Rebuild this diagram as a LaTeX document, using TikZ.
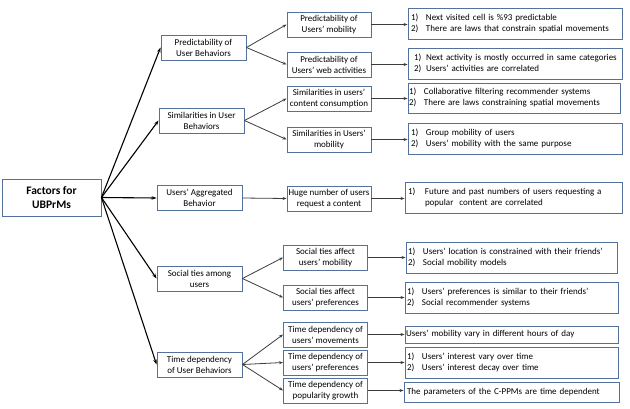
\documentclass[tikz,border=0pt]{standalone}
\usepackage{fontspec}
\setmainfont{Carlito}
\usetikzlibrary{arrows.meta}
\definecolor{bxc}{RGB}{84,112,156}
\definecolor{arc}{RGB}{60,60,60}
\begin{document}
\begin{tikzpicture}[x=1pt,y=-1pt,
  bx/.style={draw=bxc, line width=0.9pt, fill=white, inner sep=0pt, align=center,
    font=\fontsize{9}{11}\selectfont},
  lone/.style={bx, minimum width=85pt, minimum height=25pt},
  ltwo/.style={bx, minimum width=84pt, minimum height=25pt},
  lthree/.style={bx, align=left, inner xsep=3pt, text width=#1},
  lthree/.default=208pt,
  rootbox/.style={bx, minimum width=99pt, minimum height=37pt,
    font=\fontsize{11.5}{13.5}\selectfont\bfseries},
  rootarr/.style={-{Stealth[length=5pt,width=3.5pt]}, line width=1.1pt, black},
  arr/.style={-{Stealth[length=4pt,width=3pt]}, line width=0.8pt, arc},
]
\useasboundingbox (0,0) rectangle (630,408);

% root
\node[rootbox] (root) at (51.5,197.5) {Factors for\\UBPrMs};

% level 1
\node[lone] (a1) at (203.5,47.5) {Predictability of\\User Behaviors};
\node[lone] (a2) at (201.5,120.5) {Similarities in User\\Behaviors};
\node[lone] (a3) at (199.5,198) {Users’ Aggregated\\Behavior};
\node[lone] (a4) at (199.5,278.5) {Social ties among\\users};
\node[lone] (a5) at (199.5,364.5) {Time dependency\\of User Behaviors};

% level 2
\node[ltwo] (b1) at (329,24.5) {Predictability of\\Users’ mobility};
\node[ltwo] (b2) at (329,64.5) {Predictability of\\Users’ web activities};
\node[ltwo] (b3) at (329,98.5) {Similarities in users’\\content consumption};
\node[ltwo] (b4) at (329,139.5) {Similarities in Users’\\mobility};
\node[ltwo] (b5) at (329,198.5) {Huge number of users\\request a content};
\node[ltwo] (b6) at (325.5,257.5) {Social ties affect\\users’ mobility};
\node[ltwo] (b7) at (325.5,297.5) {Social ties affect\\users’ preferences};
\node[ltwo] (b8) at (325.5,334.5) {Time dependency of\\users’ movements};
\node[ltwo] (b9) at (325.5,362.5) {Time dependency of\\users’ preferences};
\node[ltwo] (b10) at (325.5,390.5) {Time dependency of\\popularity growth};

% level 3
\node[lthree, minimum height=31pt] (c1) at (515,23.5)
  {\begin{tabular}{@{}p{15pt}@{}l@{}}1) & Next visited cell is \%93 predictable\\2) & There are laws that constrain spatial movements\end{tabular}};
\node[lthree, minimum height=31pt] (c2) at (515,63.5)
  {\hspace*{3pt}\begin{tabular}{@{}p{12pt}@{}l@{}}1) & Next activity is mostly occurred in same categories\\2) & Users’ activities are correlated\end{tabular}};
\node[lthree=210pt, minimum height=30pt, inner xsep=1pt] (c3) at (514,98)
  {\begin{tabular}{@{}p{15pt}@{}l@{}}1) & Collaborative filtering recommender systems\\2) & There are laws constraining spatial movements\end{tabular}};
\node[lthree, minimum height=31pt] (c4) at (515,138.5)
  {\begin{tabular}{@{}p{15pt}@{}l@{}}1) & Group mobility of users\\2) & Users’ mobility with the same purpose\end{tabular}};
\node[lthree=211pt, minimum height=31pt] (c5) at (513.5,197.5)
  {\begin{tabular}{@{}p{17pt}@{}l@{}}1) & Future and past numbers of users requesting a\\ & popular\ \ content are correlated\end{tabular}};
\node[lthree=207pt, minimum height=31pt, inner xsep=2pt] (c6) at (511.5,257.5)
  {\begin{tabular}{@{}p{15pt}@{}l@{}}1) & Users’ location is constrained with their friends’\\2) & Social mobility models\end{tabular}};
\node[lthree=209pt, minimum height=31pt, inner xsep=2pt] (c7) at (511.5,297.5)
  {\begin{tabular}{@{}p{15pt}@{}l@{}}1) & Users’ preferences is similar to their friends’\\2) & Social recommender systems\end{tabular}};
\node[lthree=211pt, minimum height=17pt, inner xsep=1pt] (c8) at (511.5,334.5)
  {Users’ mobility vary in different hours of day};
\node[lthree=209pt, minimum height=31pt, inner xsep=2pt] (c9) at (511.5,362.5)
  {\begin{tabular}{@{}p{15pt}@{}l@{}}1) & Users’ interest vary over time\\2) & Users’ interest decay over time\end{tabular}};
\node[lthree=209pt, minimum height=20pt] (c10) at (511.5,392)
  {The parameters of the C-PPMs are time dependent};

% root arrows
\foreach \t in {a1,a2,a3,a4,a5}
  \draw[rootarr] (root.east) -- (\t.west);

% level 1 -> level 2
\draw[arr] (a1.east) -- (b1.west);
\draw[arr] (a1.east) -- (b2.west);
\draw[arr] (a2.east) -- (b3.west);
\draw[arr] (a2.east) -- (b4.west);
\draw[arr] (a3.east) -- (b5.west);
\draw[arr] (a4.east) -- (b6.west);
\draw[arr] (a4.east) -- (b7.west);
\draw[arr] (a5.east) -- (b8.west);
\draw[arr] (a5.east) -- (b9.west);
\draw[arr] (a5.east) -- (b10.west);

% level 2 -> level 3
\foreach \i in {1,...,10}
  \draw[arr] (b\i.east) -- (b\i.east -| c\i.west);
\end{tikzpicture}
\end{document}
